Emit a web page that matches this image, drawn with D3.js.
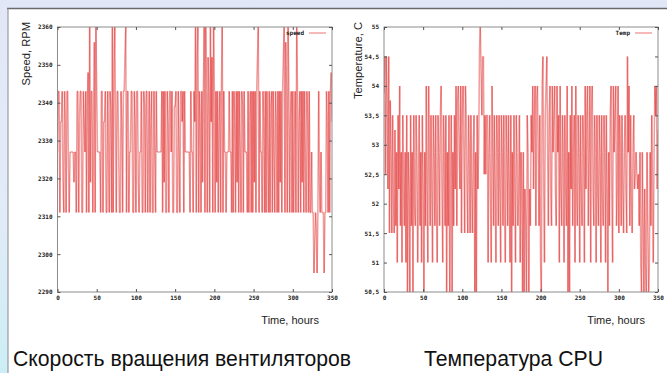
<!DOCTYPE html>
<html><head><meta charset="utf-8">
<script src="https://cdn.jsdelivr.net/npm/d3@7"></script>
<style>body{margin:0;background:#fff}svg{display:block}</style>
</head><body>
<svg id="c" width="667" height="373"></svg>
<script>
// sampling interval of both series, hours
const sampleHours = 1;
const speedRPM = [
2327,2343,2343,2311,2335,2335,2343,2319,2311,2343,
2335,2311,2343,2343,2323,2311,2327,2327,2327,2327,
2327,2319,2327,2327,2311,2343,2343,2311,2335,2343,
2343,2311,2311,2343,2335,2327,2343,2311,2339,2348,
2311,2360,2319,2343,2343,2311,2335,2356,2311,2360,
2343,2327,2327,2327,2327,2311,2343,2343,2311,2335,
2335,2343,2311,2311,2343,2327,2311,2343,2339,2311,
2360,2311,2348,2360,2335,2311,2343,2343,2327,2311,
2311,2343,2335,2311,2343,2343,2352,2360,2311,2343,
2343,2311,2327,2327,2343,2343,2311,2311,2343,2335,
2311,2343,2343,2319,2311,2327,2327,2343,2311,2311,
2343,2339,2311,2343,2343,2311,2327,2343,2311,2335,
2343,2311,2311,2343,2327,2311,2343,2327,2327,2327,
2327,2327,2327,2343,2311,2343,2319,2343,2311,2311,
2343,2335,2311,2343,2343,2327,2343,2311,2311,2339,
2339,2343,2311,2311,2343,2327,2311,2343,2343,2335,
2343,2311,2343,2327,2327,2327,2327,2327,2327,2311,
2343,2327,2327,2311,2343,2335,2360,2311,2352,2360,
2311,2343,2335,2311,2343,2319,2343,2360,2311,2360,
2343,2311,2352,2343,2311,2360,2335,2352,2311,2360,
2343,2311,2343,2319,2343,2311,2335,2343,2311,2343,
2360,2311,2343,2327,2327,2311,2327,2327,2327,2343,
2327,2327,2311,2343,2311,2343,2335,2311,2343,2319,
2343,2311,2343,2327,2311,2343,2339,2311,2343,2327,
2327,2327,2311,2343,2311,2335,2343,2311,2343,2311,
2343,2319,2343,2311,2343,2352,2360,2311,2343,2327,
2327,2311,2343,2335,2311,2343,2311,2343,2327,2311,
2343,2311,2339,2343,2311,2343,2327,2311,2343,2335,
2311,2343,2311,2343,2319,2343,2311,2343,2352,2360,
2311,2356,2343,2311,2360,2343,2311,2335,2343,2311,
2343,2311,2327,2343,2311,2360,2343,2311,2335,2343,
2311,2343,2319,2343,2311,2343,2327,2311,2343,2335,
2311,2343,2311,2311,2327,2311,2311,2295,2303,2311,
2307,2295,2311,2343,2319,2311,2327,2311,2311,2311,
2295,2311,2311,2343,2335,2311,2343,2311,2343,2348,
2335
];
const tempC = [
53.875,54.5,52.5,54.5,53.75,52.25,54.5,51.5,53.75,52.875,
51.5,53.5,52.25,51.5,53.25,51.625,52.875,51,53.5,52.25,
54,51.625,52.875,51,53.5,52.25,51.625,52.875,51,53.5,
50.5,52.875,52.25,50.5,53.5,51.625,52.875,50.5,53.5,52,
51.625,53.5,52.875,51,52.25,53.5,51.625,52.875,51,53.5,
52.25,50.5,52.875,51.625,54,52.25,51,54,52.875,51.625,
53.5,52.25,51,53.5,52.875,51.625,53.5,52,51,53.5,
52.875,51.625,53.5,54,52.25,51,53.5,52.875,51.625,53.5,
50.5,52.875,51.625,53.5,50.5,52.25,53.5,50.5,52.875,51.625,
53.5,52.25,54,51.625,53.75,54,52.875,52.25,54,51.5,
53.5,54,52.875,51.5,54,53.5,52.25,51.5,53.5,52.875,
51.5,53.5,52.25,51.5,52.875,53.5,50.5,52.875,50.5,53.5,
52.25,53,54.625,55,54.25,53.5,54.5,54.5,52.5,53.5,
52.5,53.5,53.5,51,52.875,53.5,52.25,51,54,52.875,
51.625,53.5,52.25,51,53.5,52.875,51.625,53.5,52.25,51,
53.5,52.875,51.625,53.5,52,51,53.5,52.875,51.625,53.5,
52.25,51,53.5,50.5,52.875,51.625,53.5,52.25,51,53.5,
52.875,51.625,52.25,53.5,51,52.875,52.25,50.5,52.875,50.5,
52.25,51.625,50.5,53.5,52.875,50.5,52.25,51.625,53.5,52.875,
54,52.25,53.5,54,51.625,53.75,54,52.875,51.625,53.5,
51,50.5,54,54.5,52.25,51,53.5,54,54.5,52.875,
51.625,53.5,54,52.25,51.625,54,52.875,53.5,54,52.25,
51.625,54,52.875,53.5,51,54,52.25,51.625,53.5,52.875,
51,53.5,52.25,51.625,54,50.5,52.875,50.5,53.5,52.25,
54,51.625,52.875,53.5,51,54,52.25,51.625,53.5,52.875,
51,53.5,52.25,51.625,53.5,52.875,51,54,52.25,53.5,
54,51.625,52.875,54,51,53.5,54,52.25,51.625,53.5,
52.875,51,53.5,52.25,51.625,53.5,52.875,51,53.5,52.25,
51.625,53.5,52.875,51,53.5,52.25,50.5,52.875,51.625,53.5,
54,52.25,51,54,52.875,53.5,54,51.625,52.25,54,
51.5,53.5,52.875,51.625,53.5,52.25,51.5,52.875,53.5,52.25,
51.5,54.5,52.875,54,51.625,53.5,52.25,51.5,52.875,53.5,
52.25,52.5,52.875,52.5,52.25,52.5,51.625,52.875,51,50.5,
52.875,51.625,50.5,52.25,51,50.5,52.875,51.625,50.5,51,
52.875,51.625,53.5,52.25,51,52.875,54,53.5,54,52.25,
53.25
];
const timeTicks = [0,50,100,150,200,250,300,350];
const speedTicks = [2290,2300,2310,2320,2330,2340,2350,2360];
const tempTicks = [50.5,51,51.5,52,52.5,53,53.5,54,54.5,55];
const texts = {
  speedY: "Speed, RPM", tempY: "Temperature, C", xLabel: "Time, hours",
  speedKey: "speed", tempKey: "Temp",
  speedCaption: "Скорость вращения вентиляторов", tempCaption: "Температура CPU"
};

const svg = d3.select("#c");
const defs = svg.append("defs");
const g1 = defs.append("linearGradient").attr("id","bg").attr("x1",0).attr("y1",0).attr("x2",0).attr("y2",1);
g1.append("stop").attr("offset","0").attr("stop-color","#e2e7f8");
g1.append("stop").attr("offset","0.55").attr("stop-color","#e2ebf8");
g1.append("stop").attr("offset","1").attr("stop-color","#cdeef6");
svg.append("rect").attr("width",667).attr("height",373).attr("fill","url(#bg)");
svg.append("rect").attr("x",8).attr("y",8.5).attr("width",659).attr("height",365).attr("fill","#fff");
svg.append("line").attr("x1",7).attr("x2",667).attr("y1",8.5).attr("y2",8.5).attr("stroke","#6a6a6a").attr("stroke-width",1.6);
svg.append("line").attr("x1",8).attr("x2",8).attr("y1",8).attr("y2",373).attr("stroke","#8a8a8a").attr("stroke-width",1);

const tickFont = "'DejaVu Sans Mono', monospace";
const labelFont = "'Liberation Sans', Arial, sans-serif";

function panel(o){
  const x = d3.scaleLinear().domain([0,350]).range([o.x0,o.x1]);
  const y = d3.scaleLinear().domain(o.ydom).range([o.y1,o.y0]);
  const g = svg.append("g");
  const cid = "clip"+o.id;
  defs.append("clipPath").attr("id",cid).append("rect")
    .attr("x",o.x0).attr("y",o.y0).attr("width",o.x1-o.x0).attr("height",o.y1-o.y0);
  const pts = o.data.map((v,i)=>[i*sampleHours, v]);
  g.append("g").attr("clip-path",`url(#${cid})`).selectAll("line").data(d3.pairs(pts)).join("line")
    .attr("x1",d=>x(d[0][0])).attr("y1",d=>y(d[0][1]))
    .attr("x2",d=>x(d[1][0])).attr("y2",d=>y(d[1][1]))
    .attr("stroke","rgb(222,22,22)").attr("stroke-opacity",0.42).attr("stroke-width",1.5);
  // border
  g.append("rect").attr("x",o.x0).attr("y",o.y0).attr("width",o.x1-o.x0).attr("height",o.y1-o.y0)
    .attr("fill","none").attr("stroke","#8c8c8c").attr("stroke-width",1);
  // axes with mirrored inward ticks
  const fmt = o.fmt;
  const ax = g.append("g").attr("transform",`translate(0,${o.y1})`)
    .call(d3.axisBottom(x).tickValues(timeTicks).tickSize(-3).tickPadding(6).tickFormat(d=>d));
  const axT = g.append("g").attr("transform",`translate(0,${o.y0})`)
    .call(d3.axisTop(x).tickValues(timeTicks).tickSize(-3).tickFormat(""));
  const ay = g.append("g").attr("transform",`translate(${o.x0},0)`)
    .call(d3.axisLeft(y).tickValues(o.ticks).tickSize(-3).tickPadding(5).tickFormat(fmt));
  const ayR = g.append("g").attr("transform",`translate(${o.x1},0)`)
    .call(d3.axisRight(y).tickValues(o.ticks).tickSize(-3).tickFormat(""));
  [ax,axT,ay,ayR].forEach(a=>{
    a.select(".domain").remove();
    a.selectAll(".tick line").attr("stroke","#555");
    a.selectAll("text").attr("font-family",tickFont).attr("font-size",6).attr("font-weight","bold").attr("fill","#222");
  });
  ax.selectAll("text").attr("dy","0.35em");
  // y label
  g.append("text").attr("transform",`translate(${o.ylx},22) rotate(-90)`).attr("text-anchor","end")
    .attr("font-family",labelFont).attr("font-size",11.2).attr("fill","#222").text(o.ylabel);
  g.append("text").attr("x",o.x1-13).attr("y",324).attr("text-anchor","end")
    .attr("font-family",labelFont).attr("font-size",11).attr("fill","#222").text(texts.xLabel);
  // key
  g.append("text").attr("x",o.x1-28).attr("y",35).attr("text-anchor","end")
    .attr("font-family",tickFont).attr("font-size",6).attr("font-weight","bold").attr("fill","#222").text(o.key);
  g.append("line").attr("x1",o.x1-23).attr("x2",o.x1-6).attr("y1",33).attr("y2",33)
    .attr("stroke","rgb(222,22,22)").attr("stroke-opacity",0.5).attr("stroke-width",1.2);
  g.append("text").attr("x",o.capx).attr("y",366).attr("font-family",labelFont).attr("font-size",21.2)
    .attr("fill","#111").text(o.caption);
}

panel({id:1, x0:57.5, x1:332, y0:27, y1:292, ydom:[2290,2360], ticks:speedTicks, data:speedRPM,
  fmt:d=>d, ylabel:texts.speedY, ylx:30, key:texts.speedKey, caption:texts.speedCaption, capx:13});
panel({id:2, x0:384, x1:658, y0:27, y1:292, ydom:[50.5,55], ticks:tempTicks, data:tempC,
  fmt:d=>String(d).replace(".",","), ylabel:texts.tempY, ylx:361.5, key:texts.tempKey, caption:texts.tempCaption, capx:424});
</script>
</body></html>
